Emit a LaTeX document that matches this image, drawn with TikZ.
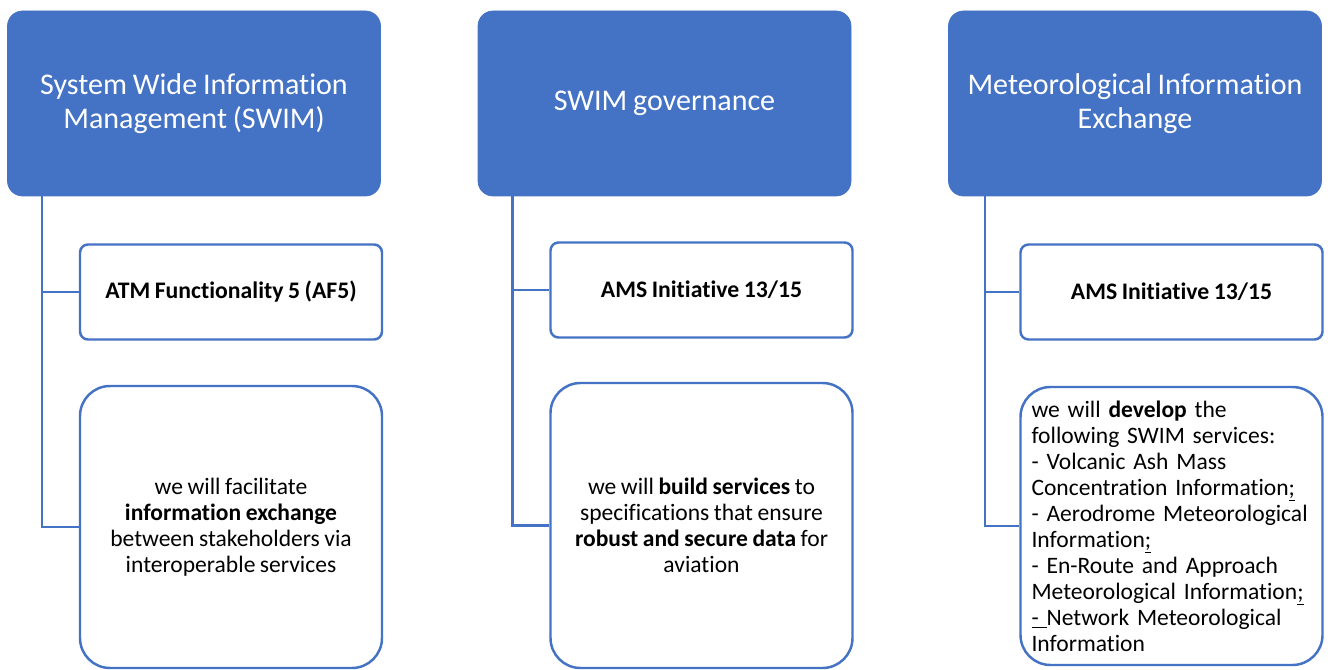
\documentclass[tikz,border=0pt]{standalone}
\usepackage{fontspec}
\setmainfont[Ligatures=NoCommon, WordSpace=0.85]{Carlito}
\usepackage{tikz}
\definecolor{swimblue}{HTML}{4472C4}
\tikzset{
    header/.style={rectangle, rounded corners=0.3cm, fill=swimblue, draw=swimblue,
        minimum width=7.46cm, minimum height=3.7cm, text=white, align=center,
        font=\fontsize{17.1}{19.3}\selectfont},
    topbox/.style={rectangle, rounded corners=0.16cm, draw=swimblue, line width=1.4pt,
        fill=white, minimum width=6.04cm, minimum height=1.9cm, align=center,
        font=\fontsize{13.5}{14.8}\selectfont\bfseries},
    infobox/.style={rectangle, rounded corners=0.6cm, draw=swimblue, line width=1.4pt,
        fill=white, minimum width=6.04cm, align=center,
        font=\fontsize{13.4}{14.8}\selectfont},
    branch/.style={draw=swimblue, line width=1.4pt}
}

\begin{document}
\begin{tikzpicture}
	\useasboundingbox (0,0) rectangle (26.56,-13.4);
	\node (h1) [header] at (3.88cm, -2.07cm) {System Wide Information\\Management (SWIM)};
	\node (h2) [header] at (13.29cm, -2.07cm) {SWIM governance};
	\node (h3) [header] at (22.70cm, -2.07cm) {Meteorological Information\\Exchange};

	\node (a1) [topbox] at (4.62cm, -5.84cm) {ATM Functionality 5 (AF5)};
	\node (a2) [topbox] at (14.03cm, -5.80cm) {AMS Initiative 13/15};
	\node (a3) [topbox] at (23.43cm, -5.84cm) {AMS Initiative 13/15};

	\node (b1) [infobox, minimum height=5.64cm] at (4.62cm, -10.54cm)
		{we will facilitate\\\textbf{information exchange}\\between stakeholders via\\interoperable services};
	\node (b2) [infobox, minimum height=5.7cm] at (14.03cm, -10.51cm)
		{we will \textbf{build services} to\\specifications that ensure\\\textbf{robust and secure data} for\\aviation};
	\node (b3) [infobox, minimum height=5.56cm, text width=5.6cm, align=left] at (23.43cm, -10.52cm)
		{we will \textbf{develop} the\\following SWIM services:\\- Volcanic Ash Mass\\Concentration Information\underline{;}\\- Aerodrome Meteorological\\Information\underline{;}\\- En-Route and Approach\\Meteorological Information\underline{;}\\\underline{-\ }Network Meteorological\\Information};

	\draw [branch] ([xshift=0.7cm]h1.south west) |- (a1.west);
	\draw [branch] ([xshift=0.7cm]h1.south west) |- (b1.west);
	\draw [branch] ([xshift=0.7cm]h2.south west) |- (a2.west);
	\draw [branch] ([xshift=0.7cm]h2.south west) |- (b2.west);
	\draw [branch] ([xshift=0.74cm]h3.south west) |- (a3.west);
	\draw [branch] ([xshift=0.74cm]h3.south west) |- (b3.west);
\end{tikzpicture}
\end{document}
